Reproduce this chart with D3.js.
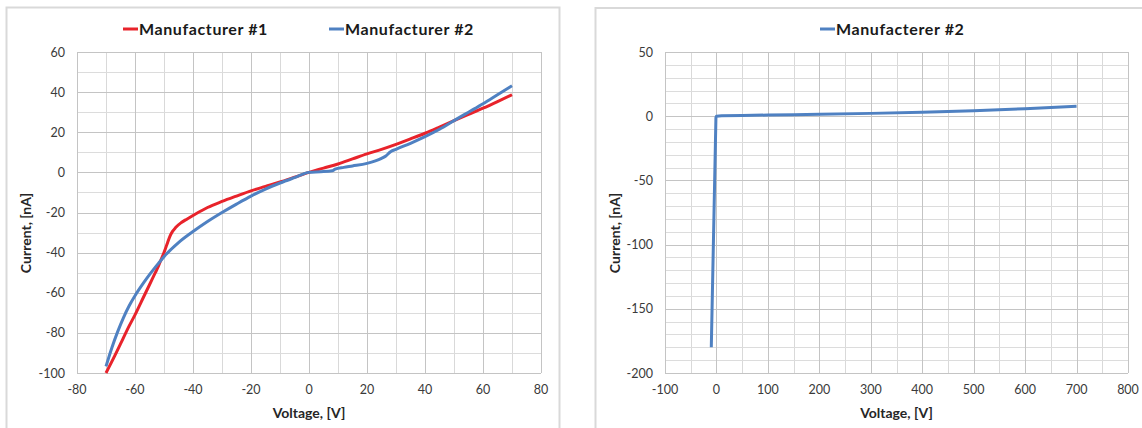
<!DOCTYPE html>
<html>
<head>
<meta charset="utf-8">
<script src="https://cdn.jsdelivr.net/npm/d3@7"></script>
<style>
  body { margin: 0; background: #fff; }
  svg { display: block; font-family: Lato, "Open Sans", sans-serif; }
  .tick-label { font-size: 12.5px; fill: #3a3a3a; }
  .axis-title { font-size: 14px; font-weight: bold; fill: #262626; }
  .legend-text { font-size: 16px; font-weight: bold; fill: #1a1a1a; letter-spacing: 0.6px; }
</style>
</head>
<body>
<svg id="chart" width="1142" height="428"></svg>
<script>
// Left chart: I-V curves of both manufacturers
var voltage1 = [-70, -67, -65, -62, -60, -57, -55, -53, -52, -51, -50, -49, -48, -47, -46, -44, -42, -40, -35, -30, -25, -20, -15, -10, -5, 0, 5, 10, 15, 20, 25, 30, 35, 40, 45, 50, 55, 60, 65, 70];
var current1 = [-100, -91.5, -85.5, -76.5, -71, -62, -56, -50, -47, -43.5, -40, -36, -32, -29.3, -27.5, -25, -23.2, -21.5, -17.5, -14.5, -11.8, -9.2, -7, -4.8, -2.4, 0, 2.1, 4.2, 6.7, 9.2, 11.5, 14, 16.7, 19.5, 22.6, 25.8, 28.9, 32, 35.3, 38.7];

var voltage2 = [-70, -68, -66, -64, -62, -60, -57, -55, -52, -50, -45, -40, -35, -30, -25, -20, -15, -10, -5, 0, 4, 8, 9, 12, 15, 20, 25, 26.5, 28, 30, 35, 40, 45, 50, 55, 60, 65, 70];
var current2 = [-96.7, -87.5, -79.5, -72.5, -66.5, -61.5, -55, -51, -45.5, -42, -35, -29.5, -24.5, -20, -15.8, -11.8, -8.3, -5.3, -2.6, 0, 0.3, 0.8, 1.6, 2.5, 3.2, 4.5, 7, 8.2, 10.2, 11.5, 14.5, 17.8, 21.5, 25.8, 30, 34.2, 38.7, 43.2];

// Right chart: manufacturer #2 over the wide voltage range
var voltageWide = [-10, -1, 0, 10, 50, 100, 150, 200, 300, 400, 500, 600, 700];
var currentWide = [-180, -1, 0, 0.4, 0.6, 0.9, 1.2, 1.5, 2.2, 3.0, 4.2, 5.8, 7.8];

var xTicksLeft = [-80, -60, -40, -20, 0, 20, 40, 60, 80];
var yTicksLeft = [-100, -80, -60, -40, -20, 0, 20, 40, 60];
var xTicksRight = [-100, 0, 100, 200, 300, 400, 500, 600, 700, 800];
var yTicksRight = [-200, -150, -100, -50, 0, 50];

var red = '#e8232b';
var blue = '#4f81c2';

var svg = d3.select('#chart');

function zip(xs, ys) {
    return xs.map((x, i) => ({ x: x, y: ys[i] }));
}

function drawPanel(cfg) {
    // panel frame
    svg.append('rect')
        .attr('x', cfg.frame[0]).attr('y', cfg.frame[1])
        .attr('width', cfg.frame[2]).attr('height', cfg.frame[3])
        .attr('fill', '#fff').attr('stroke', '#d9d9d9').attr('stroke-width', 2);

    var x = d3.scaleLinear().domain(cfg.xDomain).range([cfg.left, cfg.right]);
    var y = d3.scaleLinear().domain(cfg.yDomain).range([cfg.bottom, cfg.top]);

    var g = svg.append('g');

    // minor gridlines first, then major ones on top
    g.selectAll('.xminor')
        .data(d3.range(cfg.xDomain[0], cfg.xDomain[1] + 0.001, cfg.xMinor))
        .enter().append('line')
        .attr('x1', d => Math.round(x(d)) + 0.5).attr('x2', d => Math.round(x(d)) + 0.5)
        .attr('y1', cfg.top).attr('y2', cfg.bottom)
        .attr('stroke', '#d9d9d9');
    g.selectAll('.yminor')
        .data(d3.range(cfg.yDomain[0], cfg.yDomain[1] + 0.001, cfg.yMinor))
        .enter().append('line')
        .attr('y1', d => Math.round(y(d)) + 0.5).attr('y2', d => Math.round(y(d)) + 0.5)
        .attr('x1', cfg.left).attr('x2', cfg.right)
        .attr('stroke', '#dcdcdc');
    g.selectAll('.xmajor')
        .data(cfg.xTicks)
        .enter().append('line')
        .attr('x1', d => Math.round(x(d)) + 0.5).attr('x2', d => Math.round(x(d)) + 0.5)
        .attr('y1', cfg.top).attr('y2', cfg.bottom)
        .attr('stroke', '#c4c4c4');
    g.selectAll('.ymajor')
        .data(cfg.yTicks)
        .enter().append('line')
        .attr('y1', d => Math.round(y(d)) + 0.5).attr('y2', d => Math.round(y(d)) + 0.5)
        .attr('x1', cfg.left).attr('x2', cfg.right)
        .attr('stroke', '#c4c4c4');

    // tick labels
    g.selectAll('.xlab')
        .data(cfg.xTicks)
        .enter().append('text')
        .attr('class', 'tick-label')
        .attr('x', d => x(d))
        .attr('y', cfg.bottom + 21)
        .attr('text-anchor', 'middle')
        .text(d => d);
    g.selectAll('.ylab')
        .data(cfg.yTicks)
        .enter().append('text')
        .attr('class', 'tick-label')
        .attr('x', cfg.left - 12)
        .attr('y', d => y(d) + 4.5)
        .attr('text-anchor', 'end')
        .text(d => d);

    // axis titles
    svg.append('text')
        .attr('class', 'axis-title')
        .attr('x', (cfg.left + cfg.right) / 2)
        .attr('y', 418)
        .attr('text-anchor', 'middle')
        .text('Voltage, [V]');
    svg.append('text')
        .attr('class', 'axis-title')
        .attr('transform', 'translate(' + cfg.yTitleX + ',233) rotate(-90)')
        .attr('text-anchor', 'middle')
        .text('Current, [nA]');

    // series
    var line = d3.line()
        .x(d => x(d.x))
        .y(d => y(d.y))
        .curve(cfg.curve);
    cfg.series.forEach(function (s) {
        g.append('path')
            .datum(s.points)
            .attr('fill', 'none')
            .attr('stroke', s.color)
            .attr('stroke-width', 3)
            .attr('stroke-linejoin', 'round')
            .attr('d', line);
    });

    // legend
    cfg.series.forEach(function (s) {
        svg.append('line')
            .attr('x1', s.legendX).attr('x2', s.legendX + 15)
            .attr('y1', 29).attr('y2', 29)
            .attr('stroke', s.color).attr('stroke-width', 3);
        svg.append('text')
            .attr('class', 'legend-text')
            .attr('x', s.legendX + 16)
            .attr('y', 34.5)
            .text(s.name);
    });
}

drawPanel({
    frame: [6.5, 7.5, 553, 440],
    left: 77, right: 541, top: 52, bottom: 373,
    xDomain: [-80, 80], yDomain: [-100, 60],
    xMinor: 10, yMinor: 10,
    xTicks: xTicksLeft, yTicks: yTicksLeft,
    yTitleX: 31,
    curve: d3.curveMonotoneX,
    series: [
        { name: 'Manufacturer #1', color: red, points: zip(voltage1, current1), legendX: 123 },
        { name: 'Manufacturer #2', color: blue, points: zip(voltage2, current2), legendX: 329 }
    ]
});

drawPanel({
    frame: [595.5, 8, 560, 440],
    left: 665, right: 1128, top: 52, bottom: 373,
    xDomain: [-100, 800], yDomain: [-200, 50],
    xMinor: 50, yMinor: 10,
    xTicks: xTicksRight, yTicks: yTicksRight,
    yTitleX: 620,
    curve: d3.curveLinear,
    series: [
        { name: 'Manufacterer #2', color: blue, points: zip(voltageWide, currentWide), legendX: 820 }
    ]
});
</script>
</body>
</html>
